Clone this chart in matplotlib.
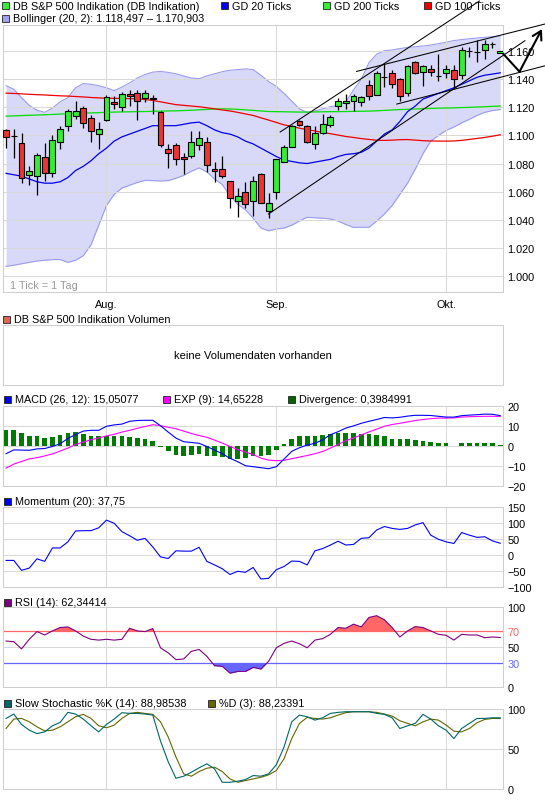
import matplotlib
matplotlib.use("Agg")
import matplotlib.pyplot as plt
from matplotlib.patches import Rectangle
import numpy as np

plt.rcParams['font.family'] = ['Liberation Sans', 'DejaVu Sans']
plt.rcParams['axes.unicode_minus'] = True

# ------------------------------------------------------------------ data
month_labels = ["Aug.", "Sep.", "Okt."]
month_pos = [13, 35, 57]

opens = [1104.0, 1099.5, 1094.5, 1072.1, 1071.0, 1085.0, 1072.9, 1095.2, 1107.1, 1113.8,
         1119.8, 1112.4, 1101.0, 1110.7, 1123.8, 1120.2, 1129.5, 1130.5, 1126.7, 1126.2,
         1116.7, 1090.2, 1092.9, 1084.5, 1085.7, 1093.1, 1095.7, 1076.4, 1076.4, 1067.9,
         1053.1, 1060.0, 1053.6, 1072.4, 1046.4, 1060.0, 1081.4, 1091.7, 1110.0, 1107.1,
         1093.8, 1101.7, 1107.6, 1121.0, 1123.3, 1124.5, 1123.8, 1136.2, 1129.0, 1141.7,
         1144.5, 1140.5, 1130.5, 1152.4, 1145.2, 1147.6, 1142.4, 1144.5, 1146.4, 1142.9,
         1160.2, 1159.5, 1160.7, 1165.0, 1159.0]
highs = [1104.8, 1104.8, 1101.7, 1078.1, 1087.4, 1094.5, 1100.2, 1107.1, 1119.0, 1124.5,
         1121.0, 1114.3, 1109.5, 1128.6, 1127.9, 1131.0, 1132.6, 1132.1, 1132.1, 1129.0,
         1117.6, 1094.0, 1094.3, 1087.4, 1103.3, 1103.3, 1098.8, 1081.0, 1085.7, 1067.9,
         1062.6, 1066.7, 1071.4, 1073.3, 1058.8, 1082.9, 1093.3, 1107.6, 1110.7, 1107.6,
         1107.1, 1115.5, 1114.3, 1126.7, 1129.8, 1129.5, 1128.1, 1139.8, 1145.7, 1151.7,
         1146.4, 1141.0, 1150.0, 1153.1, 1150.0, 1150.0, 1158.3, 1150.0, 1150.0, 1163.1,
         1163.1, 1167.9, 1167.9, 1166.7, 1160.6]
lows = [1091.0, 1083.8, 1066.2, 1064.8, 1057.9, 1067.9, 1070.7, 1090.5, 1103.3, 1111.9,
        1105.5, 1095.7, 1090.5, 1110.0, 1119.0, 1117.4, 1121.0, 1110.7, 1123.8, 1115.0,
        1092.1, 1076.7, 1079.3, 1072.6, 1083.8, 1089.3, 1074.3, 1067.1, 1069.5, 1048.3,
        1042.1, 1048.1, 1042.9, 1051.7, 1041.2, 1054.8, 1081.0, 1091.7, 1106.7, 1094.5,
        1090.5, 1101.2, 1106.0, 1118.3, 1118.6, 1117.4, 1121.0, 1125.2, 1128.6, 1134.5,
        1133.8, 1124.3, 1127.9, 1144.0, 1135.0, 1142.4, 1138.6, 1141.0, 1132.9, 1140.5,
        1156.0, 1152.4, 1154.8, 1162.6, 1158.6]
closes = [1098.8, 1099.5, 1069.5, 1074.5, 1086.2, 1072.9, 1096.9, 1104.8, 1117.4, 1117.4,
          1108.8, 1102.9, 1104.8, 1127.4, 1122.4, 1129.5, 1128.1, 1124.5, 1130.5, 1126.2,
          1093.3, 1087.4, 1083.1, 1083.1, 1095.7, 1098.1, 1079.0, 1075.0, 1071.0, 1055.2,
          1057.1, 1051.0, 1067.9, 1051.7, 1051.7, 1082.9, 1092.1, 1107.1, 1107.6, 1095.2,
          1101.7, 1108.1, 1113.1, 1124.8, 1124.8, 1128.1, 1127.4, 1127.9, 1144.5, 1141.7,
          1136.9, 1127.9, 1149.3, 1144.5, 1149.3, 1145.2, 1142.4, 1147.6, 1140.5, 1160.7,
          1160.2, 1159.5, 1165.5, 1165.0, 1160.2]

gd20 = [1073.0, 1072.0, 1071.0, 1069.0, 1067.0, 1066.0, 1066.0, 1067.0, 1070.0, 1075.0,
        1078.0, 1082.0, 1087.0, 1091.0, 1096.0, 1099.0, 1101.0, 1103.0, 1105.0, 1107.0,
        1107.0, 1107.0, 1107.0, 1108.0, 1109.0, 1109.5, 1107.0, 1104.0, 1102.0, 1101.0,
        1099.0, 1096.0, 1094.0, 1091.0, 1088.0, 1085.0, 1082.5, 1081.5, 1080.5, 1080.0,
        1081.0, 1082.0, 1083.0, 1085.0, 1086.5, 1087.0, 1088.0, 1091.0, 1096.0, 1101.0,
        1104.0, 1110.0, 1117.0, 1121.0, 1126.0, 1128.0, 1130.0, 1132.0, 1134.0, 1136.5,
        1139.0, 1141.5, 1143.0, 1143.8, 1144.7]
gd200 = [1113.8, 1114.0, 1114.2, 1114.4, 1114.6, 1114.8, 1115.0, 1115.3, 1115.5, 1115.7,
         1115.9, 1116.1, 1116.3, 1116.5, 1116.7, 1116.8, 1116.9, 1117.0, 1117.1, 1117.2,
         1117.4, 1117.5, 1117.6, 1117.8, 1118.0, 1118.3, 1118.6, 1118.9, 1119.0, 1118.9,
         1118.6, 1118.3, 1117.9, 1117.5, 1117.1, 1117.0, 1116.9, 1116.8, 1116.7, 1116.7,
         1116.8, 1116.9, 1117.0, 1117.0, 1117.1, 1117.2, 1117.3, 1117.4, 1117.6, 1117.9,
         1118.2, 1118.5, 1118.7, 1118.9, 1119.1, 1119.3, 1119.5, 1119.6, 1119.7, 1119.9,
         1120.1, 1120.3, 1120.5, 1120.8, 1121.0]
gd100 = [1130.2, 1130.0, 1129.7, 1129.4, 1129.1, 1128.9, 1128.6, 1128.3, 1128.1, 1127.8,
         1127.5, 1127.1, 1126.8, 1126.6, 1126.5, 1126.4, 1126.3, 1126.1, 1125.6, 1125.0,
         1124.0, 1123.0, 1122.0, 1121.5, 1121.0, 1120.5, 1119.8, 1119.0, 1118.2, 1117.5,
         1116.5, 1115.4, 1114.3, 1112.6, 1111.0, 1109.3, 1107.6, 1106.5, 1105.2, 1104.2,
         1103.2, 1102.2, 1101.3, 1100.3, 1099.3, 1098.6, 1097.8, 1097.2, 1096.6, 1096.5,
         1096.7, 1097.0, 1097.1, 1096.7, 1096.3, 1096.1, 1096.0, 1096.0, 1096.1, 1096.5,
         1097.2, 1097.9, 1098.6, 1099.5, 1100.5]
boll_upper = [1135.5, 1133.0, 1127.0, 1121.5, 1118.0, 1116.5, 1119.5, 1124.0, 1127.0, 1134.0,
              1137.0, 1136.5, 1135.5, 1134.0, 1132.0, 1134.5, 1137.5, 1141.0, 1143.5, 1145.2,
              1145.7, 1145.0, 1144.0, 1142.5, 1141.0, 1140.5, 1142.5, 1144.0, 1145.5, 1146.5,
              1147.0, 1147.5, 1147.0, 1143.0, 1138.5, 1135.0, 1130.0, 1124.5, 1119.0, 1116.5,
              1117.5, 1119.0, 1120.5, 1121.5, 1124.0, 1132.5, 1140.0, 1152.0, 1158.0, 1160.5,
              1161.0, 1162.0, 1162.8, 1163.3, 1163.8, 1164.5, 1165.5, 1166.5, 1167.7, 1168.4,
              1169.0, 1169.5, 1170.0, 1170.5, 1170.9]
boll_lower = [1006.7, 1007.5, 1008.5, 1009.5, 1010.5, 1011.0, 1011.5, 1011.5, 1009.5, 1011.0,
              1014.3, 1022.0, 1036.0, 1050.0, 1058.0, 1062.5, 1064.5, 1066.5, 1068.0, 1067.8,
              1067.6, 1067.8, 1069.5, 1071.5, 1074.5, 1076.9, 1074.0, 1069.0, 1065.0, 1057.0,
              1051.0, 1047.0, 1041.0, 1034.0, 1032.0, 1033.3, 1034.0, 1036.0, 1039.0, 1041.7,
              1041.3, 1041.0, 1040.5, 1039.0, 1036.5, 1034.5, 1034.5, 1034.5, 1039.0, 1044.0,
              1050.0, 1058.0, 1066.0, 1076.0, 1087.0, 1096.0, 1100.0, 1103.6, 1106.0, 1109.0,
              1111.5, 1114.3, 1116.5, 1117.8, 1118.5]

macd = [-4.0, -2.1, -2.2, -2.3, -1.6, -1.4, -0.4, 1.0, 3.6, 5.6,
        7.3, 7.7, 7.7, 9.7, 10.4, 10.8, 12.2, 12.6, 12.7, 12.7,
        10.0, 6.8, 3.8, 2.0, 1.6, 1.2, -0.4, -2.2, -4.0, -6.3,
        -8.0, -10.0, -10.5, -11.0, -11.5, -10.5, -6.7, -2.8, -1.0, 0.3,
        1.2, 2.9, 5.5, 7.0, 8.8, 9.9, 11.2, 12.2, 13.1, 14.1,
        13.9, 14.2, 14.8, 15.2, 15.2, 15.1, 14.7, 14.3, 14.3, 15.0,
        15.3, 15.5, 15.8, 15.7, 15.05]
macd_exp = [-11.2, -9.2, -7.9, -6.6, -6.0, -5.1, -4.1, -2.7, -1.2, 0.6,
            1.8, 3.0, 3.9, 4.9, 5.7, 6.8, 7.7, 8.7, 9.6, 10.5,
            10.0, 9.2, 8.5, 7.3, 6.1, 5.1, 4.2, 2.8, 1.3, -0.4,
            -1.9, -3.2, -4.4, -6.2, -7.2, -7.5, -7.3, -6.5, -5.7, -4.9,
            -4.0, -2.9, -1.2, 0.6, 2.5, 3.9, 5.4, 6.9, 8.3, 9.7,
            10.6, 11.2, 11.9, 12.6, 13.1, 13.5, 13.8, 13.8, 13.9, 14.3,
            14.5, 14.6, 14.7, 14.7, 14.65]
macd_div = [7.8, 7.8, 6.3, 4.7, 4.7, 3.8, 4.2, 5.2, 6.3, 6.8,
            5.8, 4.7, 5.0, 5.0, 4.7, 4.7, 4.2, 3.8, 3.3, 2.5,
            -0.7, -2.8, -4.8, -5.0, -4.5, -4.2, -5.0, -5.3, -5.8, -6.7,
            -6.7, -6.2, -5.3, -5.0, -4.5, -2.2, 0.8, 3.3, 4.7, 4.7,
            5.0, 5.5, 5.8, 6.3, 6.3, 6.3, 6.0, 6.0, 5.2, 4.7,
            3.3, 3.3, 3.3, 2.7, 2.5, 1.7, 1.3, 1.3, 0.1, 1.2,
            1.2, 1.2, 1.2, 1.2, 0.4]
momentum = [-16, -16, -47, -40, -11, -19, 23, 23, 42, 76,
            77, 77, 86, 110, 100, 74, 61, 47, 53, 26,
            -5, -10, 14, 13, 13, 25, -19, -30, -42, -60,
            -50, -53, -38, -74, -72, -45, -35, -18, -19, -30,
            14, 21, 32, 44, 32, 34, 53, 55, 79, 90,
            84, 81, 84, 95, 102, 63, 50, 42, 37, 71,
            63, 56, 58, 45, 37.75]
rsi = [57.8, 57.0, 48.0, 60.0, 69.6, 65.4, 70.5, 74.7, 75.5, 70.5,
       64.0, 60.0, 59.0, 60.0, 59.0, 60.0, 73.8, 70.5, 69.6, 73.4,
       49.4, 43.0, 34.6, 35.4, 45.0, 47.3, 38.8, 27.0, 26.2, 17.7,
       19.8, 19.8, 24.9, 22.8, 32.5, 49.4, 54.9, 57.8, 54.4, 49.4,
       59.0, 60.8, 66.2, 74.7, 73.8, 78.9, 75.5, 87.3, 89.5, 84.4,
       74.7, 62.9, 70.5, 75.9, 74.7, 70.5, 66.2, 65.0, 59.0, 66.2,
       65.4, 65.4, 62.0, 62.9, 62.3]
stoch_k = [88.2, 93.7, 80.7, 73.5, 69.3, 71.4, 79.0, 83.2, 95.8, 93.7,
           87.4, 79.0, 71.4, 80.7, 87.4, 95.4, 94.5, 94.5, 93.7, 92.4,
           60.0, 34.0, 13.4, 16.0, 21.0, 26.5, 31.5, 25.2, 8.4, 8.4,
           9.7, 11.8, 16.8, 16.0, 18.9, 30.3, 52.5, 84.0, 92.4, 90.3,
           86.1, 89.0, 94.5, 95.8, 96.6, 96.6, 96.6, 96.6, 94.5, 93.3,
           89.0, 75.6, 79.0, 82.0, 93.3, 87.4, 79.0, 73.5, 63.0, 75.6,
           82.0, 88.2, 88.2, 89.0, 89.0]
stoch_d = [75.6, 87.4, 88.2, 84.0, 77.7, 72.7, 73.5, 77.7, 84.0, 90.3,
           93.3, 88.2, 79.0, 76.5, 79.8, 88.2, 94.5, 95.8, 94.5, 93.3,
           84.0, 65.0, 40.0, 18.9, 16.0, 21.8, 26.0, 27.3, 21.8, 12.6,
           8.4, 10.5, 12.6, 14.7, 17.6, 23.1, 37.8, 63.0, 82.0, 89.5,
           88.2, 87.4, 89.0, 92.4, 95.4, 96.6, 96.6, 96.6, 95.8, 93.7,
           91.2, 85.3, 82.0, 79.0, 84.0, 87.4, 86.1, 79.8, 72.3, 71.4,
           75.6, 82.8, 87.0, 88.2, 88.2]

price_ticks = [1000, 1020, 1040, 1060, 1080, 1100, 1120, 1140, 1160]
macd_ticks = [-20, -10, 0, 10, 20]
mom_ticks = [-100, -50, 0, 50, 100, 150]
rsi_ticks = [0, 30, 50, 70, 100]
sto_ticks = [0, 50, 100]

# drawn trend lines (index, price)
trend_lines = [((33.98, 1044.0), (67.2, 1167.6)),
               ((35.5, 1102.5), (61.3, 1195.9)),
               ((45.4, 1145.7), (69.8, 1179.5)),
               ((50.6, 1122.4), (69.8, 1149.7))]
arrow_path = [(64.42, 1158.1), (66.5, 1145.5), (69.4, 1175.9)]

# ------------------------------------------------------------------ layout
W, H = 545, 812
fig = plt.figure(figsize=(W / 100, H / 100), dpi=100)
FRAME = '#cfcfcf'
GRID = '#d9d9d9'
FS = 7.8


def fmt(v):
    s = f"{abs(v):,}".replace(",", ".")
    return ("\u2212" + s) if v < 0 else s


def panel(top, bottom, left=3, right=503.3):
    ax = fig.add_axes([left / W, 1 - bottom / H, (right - left) / W, (bottom - top) / H])
    for s in ax.spines.values():
        s.set_color(FRAME)
        s.set_linewidth(0.75)
    ax.set_xlim(-0.4, 64.4)
    ax.set_xticks([])
    ax.yaxis.tick_right()
    ax.tick_params(axis='y', length=0, pad=2.8, labelsize=FS)
    ax.set_facecolor('white')
    return ax


def grid(ax, hvals, vert=True):
    for v in hvals:
        ax.axhline(v, color=GRID, lw=0.75, zorder=1.5)
    if vert:
        for p in month_pos:
            ax.axvline(p, color=GRID, lw=0.75, zorder=1.5)


x = np.arange(len(closes))

# ---- main price panel
ax = panel(26, 292.7)
ax.set_ylim(988.6, 1178.8)
grid(ax, price_ticks)
ax.fill_between(x, boll_lower, boll_upper, color='#d8d8f8', lw=0, zorder=1)
ax.plot(x, boll_upper, color='#9c9cf0', lw=0.8, zorder=1.2)
ax.plot(x, boll_lower, color='#9c9cf0', lw=0.8, zorder=1.2)
ax.plot(x, gd200, color='#00e000', lw=0.9, zorder=2)
ax.plot(x, gd100, color='#ee0000', lw=0.9, zorder=2)
ax.plot(x, gd20, color='#0000ee', lw=0.9, zorder=2)

o = np.array(opens)
c = np.array(closes)
up = c >= o
ax.vlines(x, lows, highs, color='black', lw=0.9, zorder=3)
ax.bar(x, np.maximum(np.abs(c - o), 0.2), bottom=np.minimum(o, c), width=0.76,
       color=np.where(up, '#33ee33', '#ee3333'), edgecolor='black', linewidth=0.8, zorder=4)

for p0, p1 in trend_lines:
    ax.plot([p0[0], p1[0]], [p0[1], p1[1]], color='black', lw=0.75, clip_on=False, zorder=5)
ax.plot([arrow_path[0][0], arrow_path[1][0]], [arrow_path[0][1], arrow_path[1][1]],
        color='black', lw=1.5, clip_on=False, zorder=5)
ax.annotate('', xy=arrow_path[2], xytext=arrow_path[1], annotation_clip=False,
            arrowprops=dict(arrowstyle='->,head_length=0.6,head_width=0.35', lw=1.5,
                            color='black', shrinkA=0, shrinkB=0, clip_on=False), zorder=5)

ax.set_yticks(price_ticks)
ax.set_yticklabels([fmt(v) for v in price_ticks])
for p, lab in zip(month_pos, month_labels):
    ax.text(p, -0.0446, lab, transform=ax.get_xaxis_transform(), ha='center', va='center',
            fontsize=FS)
ax.text(7 / 500.3, (292.7 - 285.7) / 266.7, '1 Tick = 1 Tag', transform=ax.transAxes,
        ha='left', va='center', fontsize=FS, color='#999999')

# ---- volume panel
axv = panel(326, 386)
axv.set_yticks([])
axv.text(0.5, 0.5, 'keine Volumendaten vorhanden', transform=axv.transAxes,
         ha='center', va='center', fontsize=8)

# ---- MACD
axm = panel(406.7, 486.7)
axm.set_ylim(-20, 20)
grid(axm, [-10, 0, 10])
axm.bar(x, macd_div, width=0.6, color='#007a00', zorder=2)
axm.plot(x, macd_exp, color='#ff00ff', lw=0.8, zorder=3)
axm.plot(x, macd, color='#0000ff', lw=0.8, zorder=3)
axm.set_yticks(macd_ticks)
axm.set_yticklabels([fmt(v) for v in macd_ticks])

# ---- Momentum
axo = panel(508.3, 588.3)
axo.set_ylim(-100, 150)
grid(axo, [-50, 0, 50, 100])
axo.plot(x, momentum, color='#0000ff', lw=0.8, zorder=3)
axo.set_yticks(mom_ticks)
axo.set_yticklabels([fmt(v) for v in mom_ticks])

# ---- RSI
axr = panel(608.3, 688.3)
axr.set_ylim(0, 100)
grid(axr, [50])
r = np.array(rsi)
axr.fill_between(x, r, 70, where=r >= 70, interpolate=True, color='#ff6666', lw=0, zorder=2)
axr.fill_between(x, r, 30, where=r <= 30, interpolate=True, color='#6666ff', lw=0, zorder=2)
axr.axhline(70, color='#ff6666', lw=0.9, zorder=2.5)
axr.axhline(30, color='#6666ff', lw=0.9, zorder=2.5)
axr.plot(x, rsi, color='#800080', lw=0.8, zorder=3)
axr.set_yticks(rsi_ticks)
axr.set_yticklabels([fmt(v) for v in rsi_ticks])
for lab, v in zip(axr.get_yticklabels(), rsi_ticks):
    if v == 70:
        lab.set_color('#ff6666')
    elif v == 30:
        lab.set_color('#6666ff')

# ---- Slow stochastic
axs = panel(710, 790)
axs.set_ylim(0, 100)
grid(axs, [50])
axs.plot(x, stoch_d, color='#666600', lw=0.8, zorder=3)
axs.plot(x, stoch_k, color='#006666', lw=0.8, zorder=3)
axs.set_yticks(sto_ticks)
axs.set_yticklabels([fmt(v) for v in sto_ticks])

# ---- legends (pixel overlay)
ov = fig.add_axes([0, 0, 1, 1], zorder=20)
ov.set_xlim(0, W)
ov.set_ylim(H, 0)
ov.axis('off')
ov.patch.set_alpha(0)


def legend_item(xp, yp, color, text):
    ov.add_patch(Rectangle((xp, yp - 3.5), 7, 7, facecolor=color, edgecolor='#222222', lw=0.6))
    ov.text(xp + 11, yp, text, ha='left', va='center', fontsize=FS)


legend_item(2, 6.5, '#33ee33', 'DB S&P 500 Indikation (DB Indikation)')
legend_item(221, 6.5, '#0000ee', 'GD 20 Ticks')
legend_item(323, 6.5, '#33ee33', 'GD 200 Ticks')
legend_item(424, 6.5, '#ee0000', 'GD 100 Ticks')
legend_item(2, 19, '#a0a0f0', 'Bollinger (20, 2): 1.118,497 \u2013 1.170,903')
legend_item(3, 320.5, '#dd6655', 'DB S&P 500 Indikation Volumen')
legend_item(4, 400.4, '#0000ee', 'MACD (26, 12): 15,05077')
legend_item(163, 400.4, '#ff00ff', 'EXP (9): 14,65228')
legend_item(288, 400.4, '#006600', 'Divergence: 0,3984991')
legend_item(4, 502, '#0000ee', 'Momentum (20): 37,75')
legend_item(4, 603, '#800080', 'RSI (14): 62,34414')
legend_item(4, 704, '#006666', 'Slow Stochastic %K (14): 88,98538')
legend_item(208, 704, '#666600', '%D (3): 88,23391')

fig.savefig('out.png', dpi=100)
